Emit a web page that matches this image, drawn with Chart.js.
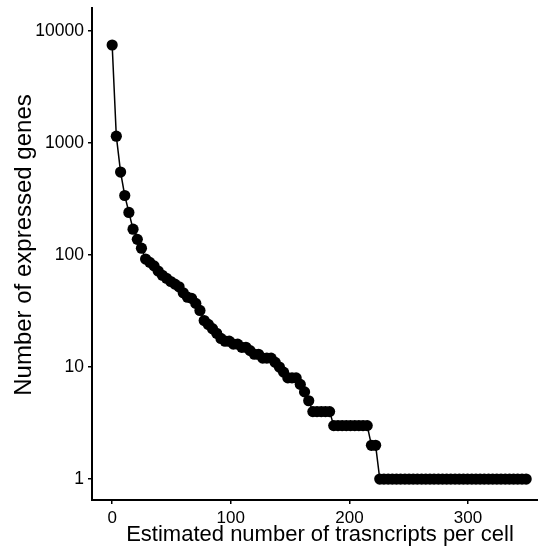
<!DOCTYPE html>
<html>
<head>
<meta charset="utf-8">
<script src="https://cdn.jsdelivr.net/npm/chart.js@4"></script>
<style>
  html, body { margin: 0; padding: 0; background: #fff; }
  canvas { display: block; }
</style>
</head>
<body>
<canvas id="genesChart" width="538" height="552"></canvas>
<script>
// transcripts per cell (x) and number of genes at that level (y)
const transcriptsPerCell = [
  0, 3.5, 7.1, 10.6, 14.1, 17.6, 21.2, 24.7, 28.2, 31.7,
  35.3, 38.8, 42.3, 45.8, 49.4, 52.9, 56.4, 59.9, 63.5, 67.0,
  70.5, 74.0, 77.6, 81.1, 84.6, 88.1, 91.7, 95.2, 98.7, 102.2,
  105.8, 109.3, 112.8, 116.3, 119.9, 123.4, 126.9, 130.4, 134.0, 137.5,
  141.0, 144.5, 148.1, 151.6, 155.1, 158.6, 162.2, 165.7, 169.2, 172.7,
  176.3, 179.8, 183.3, 186.8, 190.4, 193.9, 197.4, 200.9, 204.5, 208.0,
  211.5, 215.0, 218.6, 222.1, 225.6, 229.1, 232.7, 236.2, 239.7, 243.2,
  246.8, 250.3, 253.8, 257.3, 260.9, 264.4, 267.9, 271.4, 275.0, 278.5,
  282.0, 285.5, 289.1, 292.6, 296.1, 299.6, 303.2, 306.7, 310.2, 313.7,
  317.3, 320.8, 324.3, 327.8, 331.4, 334.9, 338.4, 341.9, 345.5, 349.0
];
const expressedGenes = [
  7500, 1150, 550, 340, 240, 170, 138, 115, 92, 86,
  80, 72, 66, 62, 58, 55, 52, 46, 42, 41,
  37, 32, 26, 24, 22, 20, 18, 17, 17, 16,
  16, 15, 15, 14, 13, 13, 12, 12, 12, 11,
  10, 9, 8, 8, 8, 7, 6, 5, 4, 4,
  4, 4, 4, 3, 3, 3, 3, 3, 3, 3,
  3, 3, 2, 2, 1, 1, 1, 1, 1, 1,
  1, 1, 1, 1, 1, 1, 1, 1, 1, 1,
  1, 1, 1, 1, 1, 1, 1, 1, 1, 1,
  1, 1, 1, 1, 1, 1, 1, 1, 1, 1
];
const xTickValues = [0, 100, 200, 300];
const yTickValues = [1, 10, 100, 1000, 10000];
const xTitle = 'Estimated number of trasncripts per cell';
const yTitle = 'Number of expressed genes';

const points = transcriptsPerCell.map((x, i) => ({ x: x, y: expressedGenes[i] }));

const FONT = '"Liberation Sans", Arial, Helvetica, sans-serif';

// no extra room for tick labels at the axis ends
function noEdgePadding(scale) {
    scale.paddingTop = 0;
    scale.paddingBottom = 0;
    scale.paddingLeft = 0;
    scale.paddingRight = 0;
}

// axis titles, placed by hand
const axisTitles = {
    id: 'axisTitles',
    afterDraw(chart) {
        const c = chart.ctx;
        const area = chart.chartArea;
        c.save();
        c.fillStyle = '#000';
        c.textAlign = 'center';

        c.font = '22px ' + FONT;
        c.textBaseline = 'alphabetic';
        c.fillText(xTitle, (area.left + area.right) / 2 + 5, 541);

        c.translate(24, (area.top + area.bottom) / 2 - 9);
        c.rotate(-Math.PI / 2);
        c.font = '24px ' + FONT;
        c.textBaseline = 'middle';
        c.fillText(yTitle, 0, 0);
        c.restore();
    }
};

const ctx = document.getElementById('genesChart').getContext('2d');
new Chart(ctx, {
    type: 'line',
    data: {
        datasets: [{
            data: points,
            borderColor: '#000',
            borderWidth: 1.5,
            backgroundColor: '#000',
            pointBackgroundColor: '#000',
            pointBorderColor: '#000',
            pointBorderWidth: 0,
            pointRadius: 5.6,
            tension: 0,
            clip: false
        }]
    },
    plugins: [axisTitles],
    options: {
        responsive: false,
        animation: false,
        devicePixelRatio: 1,
        layout: { autoPadding: false, padding: { top: 8, right: 0, bottom: 0, left: 0 } },
        plugins: {
            legend: { display: false },
            tooltip: { enabled: false }
        },
        scales: {
            x: {
                type: 'linear',
                min: -17,
                max: 359,
                afterBuildTicks: (scale) => {
                    scale.ticks = xTickValues.map(v => ({ value: v }));
                },
                afterFit: (scale) => { scale.height = 52; noEdgePadding(scale); },
                grid: { drawOnChartArea: false, drawTicks: true, tickLength: 4, color: '#000', lineWidth: 1.5 },
                border: { display: true, color: '#000', width: 2 },
                ticks: {
                    color: '#000',
                    padding: 4,
                    maxRotation: 0,
                    font: { family: FONT, size: 17 }
                }
            },
            y: {
                type: 'logarithmic',
                min: 0.65,
                max: 16040,
                afterBuildTicks: (scale) => {
                    scale.ticks = yTickValues.map(v => ({ value: v }));
                },
                afterFit: (scale) => { scale.width = 92; noEdgePadding(scale); },
                grid: { drawOnChartArea: false, drawTicks: true, tickLength: 4, color: '#000', lineWidth: 1.5 },
                border: { display: true, color: '#000', width: 2 },
                ticks: {
                    color: '#000',
                    padding: 4,
                    font: { family: FONT, size: 17.5 },
                    callback: (v) => String(v)
                }
            }
        }
    }
});
</script>
</body>
</html>
